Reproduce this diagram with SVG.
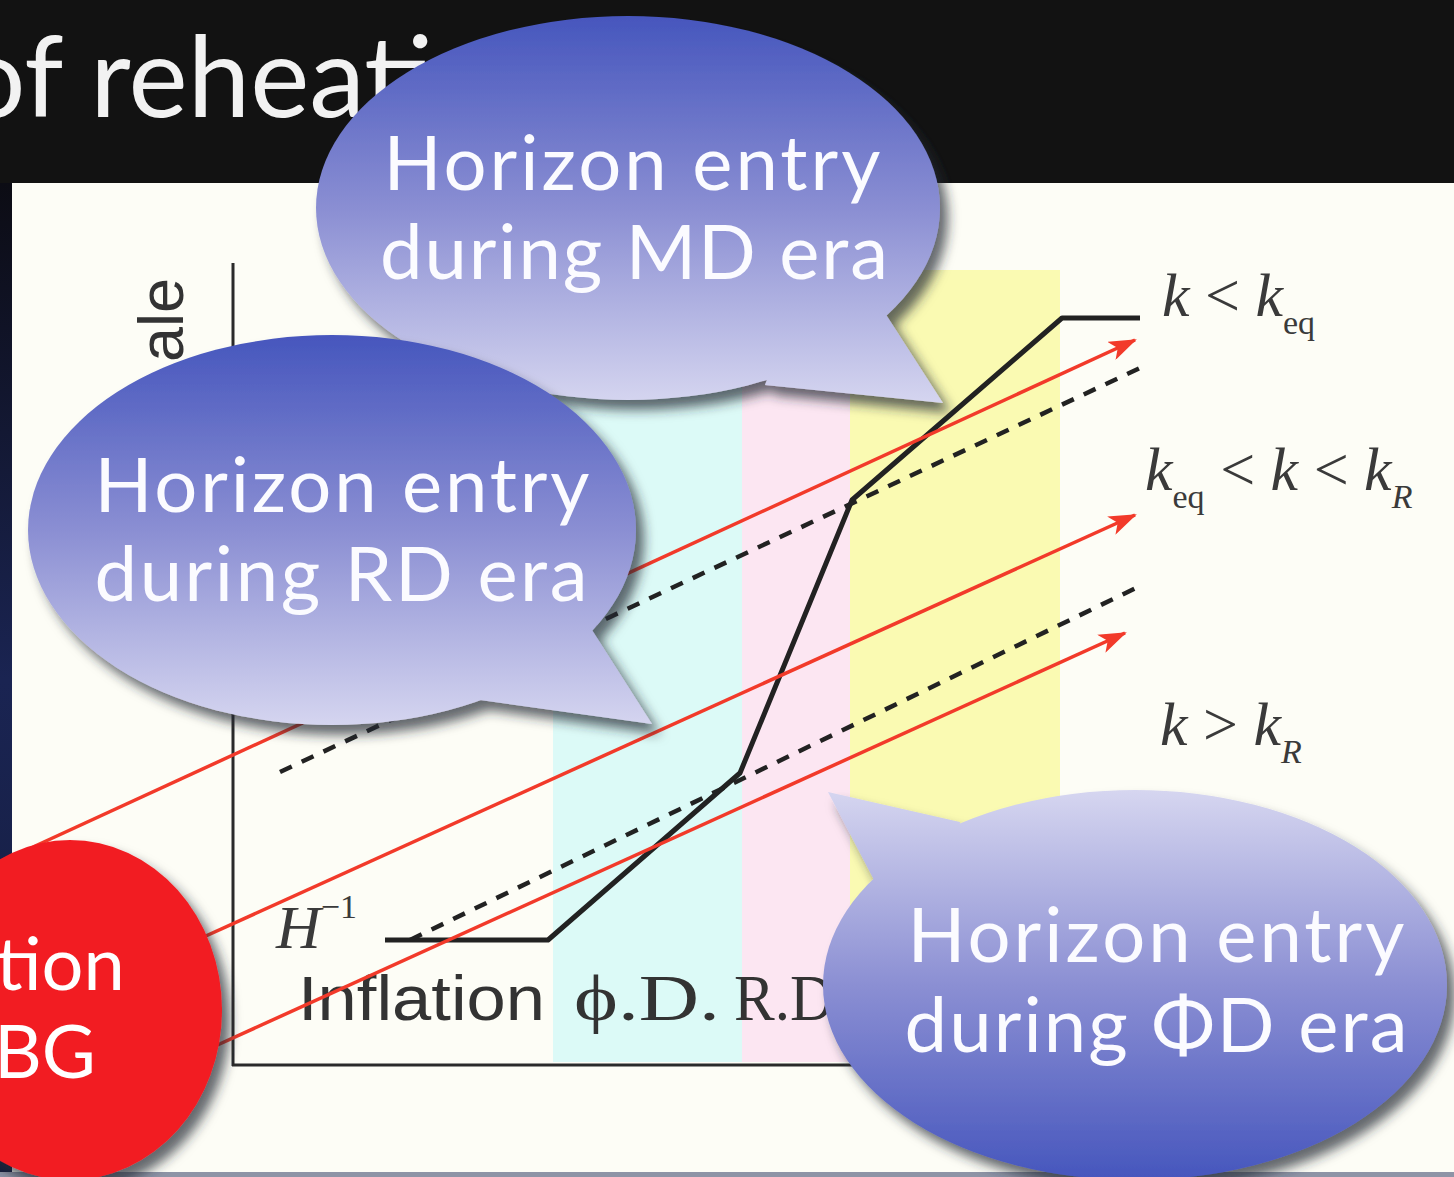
<svg xmlns="http://www.w3.org/2000/svg" width="1454" height="1177" viewBox="0 0 1454 1177">
<style>
.bubtxt{font-family:Lato,"Open Sans","DejaVu Sans",sans-serif;font-size:76px;fill:#fbfbff}
.math{font-family:"Liberation Serif","DejaVu Serif",serif;font-style:italic;font-size:62px;fill:#3a3a3a}
.up{font-style:normal}
.sub{font-size:34px}
.axl{font-family:"Liberation Sans",Arial,sans-serif;font-size:63px;fill:#333}
.era{font-family:"Liberation Serif","DejaVu Serif",serif;font-size:66px;fill:#333}
.red{stroke:#f23a2a;stroke-width:3.5;fill:none}
.dash{stroke:#222;stroke-width:4.5;stroke-dasharray:13 11;fill:none}
</style>
<defs>
<linearGradient id="gMD" gradientUnits="userSpaceOnUse" x1="0" y1="16" x2="0" y2="405">
<stop offset="0" stop-color="#4656bd"/><stop offset="0.5" stop-color="#8b8fd3"/><stop offset="1" stop-color="#d6d6f0"/></linearGradient>
<linearGradient id="gRD" gradientUnits="userSpaceOnUse" x1="0" y1="335" x2="0" y2="728">
<stop offset="0" stop-color="#4656bd"/><stop offset="0.5" stop-color="#8b8fd3"/><stop offset="1" stop-color="#d6d6f0"/></linearGradient>
<linearGradient id="gPD" gradientUnits="userSpaceOnUse" x1="0" y1="790" x2="0" y2="1180">
<stop offset="0" stop-color="#d6d6f0"/><stop offset="0.5" stop-color="#8b8fd3"/><stop offset="1" stop-color="#4656bd"/></linearGradient>
<linearGradient id="gLeft" x1="0" y1="0" x2="0" y2="1">
<stop offset="0" stop-color="#0c0c14"/><stop offset="0.5" stop-color="#1a2452"/><stop offset="1" stop-color="#141c3c"/></linearGradient>
<filter id="shadow" x="-20%" y="-20%" width="140%" height="140%">
<feDropShadow dx="8" dy="10" stdDeviation="6" flood-color="#202830" flood-opacity="0.7"/></filter>
<marker id="arr" markerUnits="userSpaceOnUse" markerWidth="28" markerHeight="20" refX="26" refY="10" orient="auto">
<path d="M0,0 L28,10 L0,20 L7,10 z" fill="#f23a2a"/></marker>
</defs>

<g id="background">
<rect x="0" y="0" width="1454" height="1177" fill="#121212"/>
<rect x="0" y="183" width="1454" height="990" fill="#fdfdf6"/>
<rect x="0" y="183" width="12" height="994" fill="url(#gLeft)"/>
<rect x="0" y="1172" width="1454" height="5" fill="#8e94a6"/>
<text x="-38" y="117" font-family="Lato,'Open Sans',sans-serif" font-size="112" fill="#f2f2f2">of reheati</text>
</g>

<g id="bands">
<rect x="553" y="270" width="189" height="792" fill="#dcfaf7"/>
<rect x="742" y="270" width="108" height="792" fill="#fce6f2"/>
<rect x="850" y="270" width="210" height="792" fill="#fafab2"/>
</g>

<g id="axes" stroke="#2a2a2a" stroke-width="3" fill="none">
<line x1="233" y1="263" x2="233" y2="1066"/>
<line x1="232" y1="1065" x2="900" y2="1065"/>
</g>

<g id="labels">
<text class="axl" transform="translate(183,362) rotate(-90)" font-size="58">ale</text>
<text class="math" x="276" y="948">H<tspan class="up" font-size="34" dy="-30">−1</tspan></text>
<text class="axl" x="298" y="1020" textLength="247" lengthAdjust="spacingAndGlyphs">Inflation</text>
<text class="era" x="574" y="1020" textLength="146" lengthAdjust="spacingAndGlyphs">ϕ.D.</text>
<text class="era" x="734" y="1020" textLength="100" lengthAdjust="spacingAndGlyphs">R.D</text>
<text class="math" x="1162" y="316">k <tspan class="up">&lt;</tspan> k<tspan class="sub up" dy="18">eq</tspan></text>
<text class="math" x="1145" y="490">k<tspan class="sub up" dy="18">eq</tspan><tspan dy="-18"> </tspan><tspan class="up">&lt;</tspan> k <tspan class="up">&lt;</tspan> k<tspan class="sub" dy="18">R</tspan></text>
<text class="math" x="1160" y="745">k <tspan class="up">&gt;</tspan> k<tspan class="sub" dy="18">R</tspan></text>
</g>

<g id="curves">
<polyline points="385,940 548,940 740,773 852,500 1062,318 1140,318" fill="none" stroke="#222" stroke-width="5" stroke-linejoin="round"/>
<line class="dash" x1="280" y1="772" x2="1140" y2="368"/>
<line class="dash" x1="410" y1="940" x2="1140" y2="586"/>
</g>

<g id="connectors">
<line class="red" x1="33" y1="847" x2="1135" y2="340" marker-end="url(#arr)"/>
<line class="red" x1="197" y1="940" x2="1135" y2="515" marker-end="url(#arr)"/>
<line class="red" x1="213" y1="1047" x2="1125" y2="633" marker-end="url(#arr)"/>
</g>

<g id="node-gwbg" filter="url(#shadow)">
<ellipse cx="70" cy="1010" rx="152" ry="170" fill="#f21e24"/>
<text x="-4" y="990" font-family="Lato,'Open Sans',sans-serif" font-size="74" fill="#fff">tion</text>
<text x="-6" y="1078" font-family="Lato,'Open Sans',sans-serif" font-size="74" fill="#fff">BG</text>
</g>

<g id="node-md">
<g filter="url(#shadow)">
<ellipse cx="628" cy="208" rx="312" ry="192" fill="url(#gMD)"/>
<polygon points="885,313 943,403 765,385 800,290" fill="url(#gMD)"/>
</g>
<text class="bubtxt" x="632" y="190" text-anchor="middle" textLength="497">Horizon entry</text>
<text class="bubtxt" x="634" y="279" text-anchor="middle" textLength="508">during MD era</text>
</g>

<g id="node-rd">
<g filter="url(#shadow)">
<ellipse cx="332" cy="530" rx="304" ry="195" fill="url(#gRD)"/>
<polygon points="592,630 652,724 480,700 500,600" fill="url(#gRD)"/>
</g>
<text class="bubtxt" x="342" y="512" text-anchor="middle" textLength="495">Horizon entry</text>
<text class="bubtxt" x="341" y="601" text-anchor="middle" textLength="493">during RD era</text>
</g>

<g id="node-phid">
<g filter="url(#shadow)">
<ellipse cx="1135" cy="985" rx="312" ry="195" fill="url(#gPD)"/>
<polygon points="875,882 828,792 960,822 950,900" fill="url(#gPD)"/>
</g>
<text class="bubtxt" x="1156" y="962" text-anchor="middle" textLength="497">Horizon entry</text>
<text class="bubtxt" x="1156" y="1052" text-anchor="middle" textLength="503">during ΦD era</text>
</g>
</svg>
